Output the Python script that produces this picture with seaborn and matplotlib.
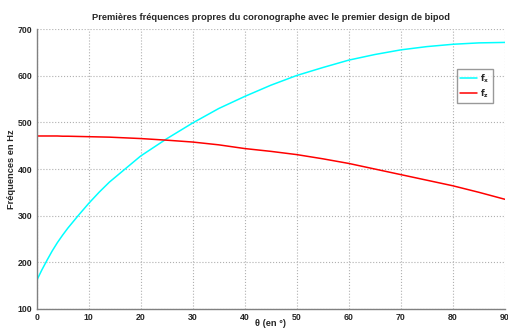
import matplotlib
matplotlib.use("Agg")
import matplotlib.pyplot as plt
import seaborn as sns
import pandas as pd

# angle theta (deg) and first eigenfrequencies (Hz)
theta = [0, 1, 2, 3, 4, 5, 6, 8, 10, 12, 14, 17, 20, 25, 30, 35, 40, 45, 50, 55, 60, 65, 70, 75, 80, 85, 90]
f_x = [160, 183, 204, 224, 242, 258, 273, 300, 326, 350, 372, 400, 428, 465, 499, 530, 556, 580, 601, 618, 634, 646, 656, 663, 668, 671, 672]
f_z = [471, 471, 471, 471, 471, 470.5, 470.5, 470, 469.5, 469, 468.5, 467, 465.5, 462, 458, 452, 444, 438, 431, 422, 412, 400, 388, 376, 364, 350, 335]

df = pd.DataFrame({"theta": theta, "f_x": f_x, "f_z": f_z})

sns.set_style("white")
plt.rcParams["font.family"] = ["Liberation Sans", "DejaVu Sans"]

fig = plt.figure(figsize=(5.08, 3.29), dpi=100)
ax = fig.add_axes([0.072, 0.0617, 0.922, 0.849])

sns.lineplot(data=df, x="theta", y="f_x", color="#00ffff", lw=1.1, ax=ax, label=r"$\mathbf{f_x}$")
sns.lineplot(data=df, x="theta", y="f_z", color="#ff0000", lw=1.1, ax=ax, label=r"$\mathbf{f_z}$")

ax.set_xlim(0, 90)
ax.set_ylim(100, 700)
ax.set_xticks(range(0, 91, 10))
ax.set_yticks(range(100, 701, 100))
ax.grid(True, linestyle=":", color="#b0b0b0", linewidth=0.8)
for s in ["top", "right"]:
    ax.spines[s].set_visible(False)
for s in ["left", "bottom"]:
    ax.spines[s].set_color("#808080")
    ax.spines[s].set_linewidth(1.0)
ax.tick_params(axis="both", labelsize=6.3, length=2, color="#808080", pad=1)
for lab in ax.get_xticklabels() + ax.get_yticklabels():
    lab.set_fontweight("bold")

ax.set_title("Premières fréquences propres du coronographe avec le premier design de bipod",
             fontsize=6.7, fontweight="bold", pad=7)
ax.set_xlabel("θ (en °)", fontsize=6.7, fontweight="bold")
ax.xaxis.set_label_coords(0.5, -0.038)
ax.set_ylabel("Fréquences en Hz", fontsize=6.7, fontweight="bold", labelpad=1)

leg = ax.legend(loc="upper right", bbox_to_anchor=(0.975, 0.858), borderaxespad=0,
                fontsize=6, fancybox=False, handlelength=2.0, handletextpad=0.4,
                borderpad=0.4, labelspacing=0.3)
leg.get_frame().set_edgecolor("#808080")
leg.get_frame().set_linewidth(1.0)

fig.savefig("out.png", dpi=100)
